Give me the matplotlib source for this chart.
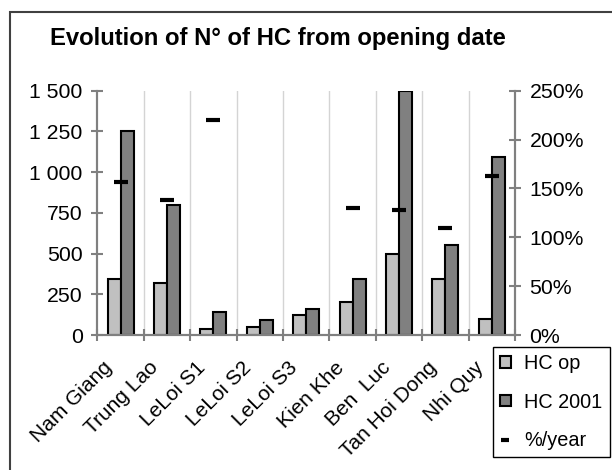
import numpy as np
from matplotlib import pyplot as plt
from matplotlib.patches import Rectangle
from matplotlib.ticker import FuncFormatter
from matplotlib.transforms import ScaledTranslation

plt.rcParams['font.family'] = ['Liberation Sans', 'DejaVu Sans']

# data
sites = ["Nam Giang", "Trung Lao", "LeLoi S1", "LeLoi S2", "LeLoi S3",
         "Kien Khe", "Ben  Luc", "Tan Hoi Dong", "Nhi Quy"]
hc_op = [345, 320, 40, 50, 125, 200, 500, 345, 100]
hc_2001 = [1250, 800, 140, 90, 162, 345, 1500, 555, 1095]
pct_year = [157, 138, 220, np.nan, np.nan, 130, 128, 110, 163]

left_ticks = [0, 250, 500, 750, 1000, 1250, 1500]
right_ticks = [0, 50, 100, 150, 200, 250]

light_clr = "#c0c0c0"
dark_clr = "#808080"
axis_clr = "#808080"


def thousands(v, pos):
    return "{:,.0f}".format(v).replace(",", " ")


if __name__ == '__main__':
    fig = plt.figure(figsize=(6.12, 4.70), dpi=100)
    ax = fig.add_axes([0.159, 0.2872, 0.6825, 0.5198])
    ax2 = ax.twinx()

    xs = np.arange(len(sites))
    w = 0.28
    prms = {"edgecolor": "black", "linewidth": 1.5, "zorder": 3}
    b1 = ax.bar(xs - w / 2, hc_op, w, color=light_clr, label="HC op", **prms)
    b2 = ax.bar(xs + w / 2, hc_2001, w, color=dark_clr, label="HC 2001", **prms)
    l1, = ax2.plot(xs, pct_year, linestyle="none", marker="_", markersize=10,
                   markeredgewidth=3, color="black", label="%/year")

    ax.set_xlim(-0.5, len(sites) - 0.5)
    ax.set_ylim(0, 1500)
    ax2.set_ylim(0, 250)

    # gridlines at category boundaries
    bounds = np.arange(len(sites) + 1) - 0.5
    for b in bounds[1:-1]:
        ax.axvline(b, color="#d4d4d4", linewidth=1, zorder=0)

    ax.set_xticks(bounds)
    ax.set_xticklabels([])
    ax.set_xticks(xs, minor=True)
    ax.set_xticklabels(sites, minor=True, rotation=45, ha="right",
                       rotation_mode="anchor", fontsize=15)
    ax.tick_params(axis="x", which="minor", length=0, pad=8)
    ax.tick_params(axis="x", which="major", direction="inout", length=9,
                   width=1.5, color=axis_clr)
    shift = ScaledTranslation(-0.18, -0.12, fig.dpi_scale_trans)
    for lbl in ax.get_xticklabels(minor=True):
        lbl.set_transform(lbl.get_transform() + shift)

    ax.set_yticks(left_ticks)
    ax.yaxis.set_major_formatter(FuncFormatter(thousands))
    ax.tick_params(axis="y", direction="inout", length=9, width=1.5,
                   color=axis_clr, labelsize=15.3, pad=6)
    ax2.set_yticks(right_ticks)
    ax2.yaxis.set_major_formatter(FuncFormatter(lambda v, p: "{:.0f}%".format(v)))
    ax2.tick_params(axis="y", direction="inout", length=9, width=1.5,
                    color=axis_clr, labelsize=15.3, pad=6)

    for a in (ax, ax2):
        a.spines["top"].set_visible(False)
        for s in ("left", "right", "bottom"):
            a.spines[s].set_color(axis_clr)
            a.spines[s].set_linewidth(1.5)

    fig.text(0.4535, 0.918, "Evolution of N° of HC from opening date",
             ha="center", va="center", fontsize=17.2, fontweight="bold")

    leg = fig.legend(handles=[b1, b2, l1], loc="upper left",
                     bbox_to_anchor=(492.7 / 612, 1 - 346.7 / 470),
                     borderaxespad=0, fancybox=False, framealpha=1,
                     edgecolor="black", fontsize=14.3, handlelength=0.55,
                     handleheight=0.55, handletextpad=0.7, labelspacing=1.0,
                     borderpad=0.35, markerscale=0.6)
    leg.get_frame().set_linewidth(1)

    # outer chart border (cut off at right and bottom)
    fig.patches.append(Rectangle((10 / 612, -0.1), 1.2, 1.1 - 12 / 470,
                                 transform=fig.transFigure, fill=False,
                                 edgecolor="#404040", linewidth=1.5))

    fig.savefig("out.png", dpi=100)
